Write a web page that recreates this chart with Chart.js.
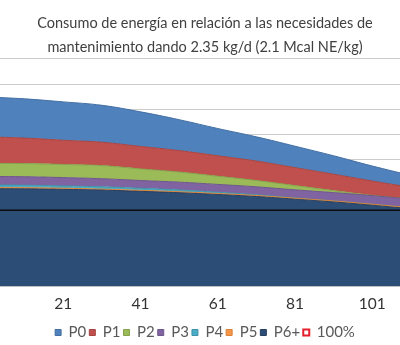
<!DOCTYPE html>
<html>
<head>
<meta charset="utf-8">
<script src="https://cdn.jsdelivr.net/npm/chart.js@4/dist/chart.umd.min.js"></script>
<style>
  html, body { margin: 0; padding: 0; background: #fff; overflow: hidden; }
  #wrap { width: 410px; height: 350px; }
</style>
</head>
<body>
<div id="wrap"><canvas id="energyChart" width="410" height="350"></canvas></div>
<script>
// days of the cycle (x values) every 10 days
const days = [1, 11, 21, 31, 41, 51, 61, 71, 81, 91, 101, 111];
const xTicks = [21, 41, 61, 81, 101];

// % of maintenance needs, one band per parity (stacked)
const p0 = [31.6, 31.1, 30.4, 29.3, 27.4, 24.5, 21.6, 19.2, 17.0, 14.6, 11.9, 9.4];
const p1 = [21.0, 20.2, 19.2, 18.5, 17.8, 17.0, 16.2, 15.4, 14.2, 13.0, 11.4, 9.4];
const p2 = [10.4, 10.4, 10.4, 10.4, 9.2, 8.0, 6.5, 5.0, 3.4, 1.6, 0.2, 0];
const p3 = [6.8, 6.7, 6.6, 6.4, 6.2, 6.2, 6.2, 6.3, 6.4, 6.6, 6.8, 6.8];
const p4 = [2.0, 2.0, 1.8, 1.8, 1.6, 1.4, 1.0, 0.6, 0.2, 0, 0, 0];
const p5 = [0.9, 0.9, 0.9, 0.8, 0.8, 0.8, 0.8, 0.8, 0.8, 0.8, 0.8, 0.8];
const p6 = [117.1, 117.0, 116.6, 116.0, 115.0, 113.9, 112.5, 110.9, 108.8, 106.6, 104.0, 101.2];
const ref100 = [100, 100, 100, 100, 100, 100, 100, 100, 100, 100, 100, 100];

const pts = arr => arr.map((v, i) => ({ x: days[i], y: v }));

// stacked bottom-up: P6+ first, P0 on top
function band(label, data, fillCol, edgeCol, first) {
  return {
    label: label,
    data: pts(data),
    backgroundColor: fillCol,
    borderColor: edgeCol,
    borderWidth: 1,
    fill: first ? 'start' : '-1',
    pointRadius: 0,
    tension: 0.4,
    stack: 'parity'
  };
}

const ctx = document.getElementById('energyChart').getContext('2d');
new Chart(ctx, {
  type: 'line',
  data: {
    datasets: [
      band('P6+', p6, '#2c4d75', '#263f60', true),
      band('P5', p5, '#f79646', '#d9823a'),
      band('P4', p4, '#4bacc6', '#3e93aa'),
      band('P3', p3, '#8064a2', '#6d5589'),
      band('P2', p2, '#9bbb59', '#85a14b'),
      band('P1', p1, '#c0504d', '#a54442'),
      band('P0', p0, '#4f81bd', '#446fa3'),
      {
        label: '100%',
        data: pts(ref100),
        borderColor: '#0d0d0d',
        borderWidth: 1.5,
        fill: false,
        pointRadius: 0,
        pointStyle: 'rect',
        pointBackgroundColor: '#fff',
        pointBorderColor: '#e3202b',
        pointBorderWidth: 2,
        stack: 'ref',
        order: -1
      }
    ]
  },
  options: {
    responsive: false,
    animation: false,
    layout: { padding: 0 },
    plugins: {
      title: {
        display: true,
        text: ['Consumo de energía en relación a las necesidades de',
               'mantenimiento dando 2.35 kg/d (2.1 Mcal NE/kg)'],
        color: '#404040',
        font: { family: 'Lato', size: 14.5, weight: 'normal', lineHeight: 1.65 },
        padding: { top: 11, bottom: 0 }
      },
      legend: {
        position: 'bottom',
        labels: {
          usePointStyle: true,
          pointStyle: 'rect',
          boxWidth: 6,
          boxHeight: 6,
          padding: 3,
          color: '#595959',
          font: { family: 'Lato', size: 15 },
          sort: (a, b) => {
            const k = i => (i === 7 ? 7 : 6 - i);
            return k(a.datasetIndex) - k(b.datasetIndex);
          }
        }
      },
      tooltip: { enabled: false }
    },
    scales: {
      x: {
        type: 'linear',
        min: 4.6,
        max: 110.8,
        afterBuildTicks: axis => { axis.ticks = xTicks.map(v => ({ value: v })); },
        afterFit: axis => { axis.height = 36; },
        grid: { display: false, drawTicks: false },
        border: { display: true, color: '#bfbfbf' },
        ticks: {
          padding: 9,
          color: '#333333',
          font: { family: 'Lato', size: 15.5 },
          maxRotation: 0,
          autoSkip: false
        }
      },
      y: {
        stacked: true,
        min: 40,
        max: 220,
        ticks: { display: false, stepSize: 20 },
        grid: { color: '#cccccc', drawTicks: false },
        border: { display: false }
      }
    }
  }
});
</script>
</body>
</html>
